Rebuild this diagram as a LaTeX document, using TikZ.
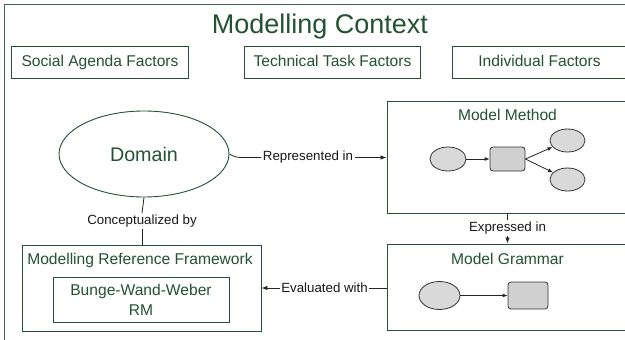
\documentclass[tikz,border=0pt]{standalone}
\usepackage{fontspec}
\setmainfont{Liberation Sans}
\usetikzlibrary{shapes.geometric,arrows.meta}
\definecolor{dkgreen}{RGB}{36,82,50}
\definecolor{framegreen}{RGB}{62,102,74}
\definecolor{shapefill}{RGB}{217,217,217}
\definecolor{rectfill}{RGB}{208,208,208}
\definecolor{labelink}{RGB}{25,25,25}
\begin{document}
\begin{tikzpicture}[x=1pt,y=-1pt,
  box/.style={draw=dkgreen, line width=0.9pt, rectangle, inner sep=0pt},
  boxtxt/.style={text=dkgreen, font=\fontsize{15.6}{18}\selectfont, anchor=base, inner sep=0pt},
  lbl/.style={text=labelink, font=\fontsize{13.3}{15}\selectfont, inner sep=1.5pt},
  conn/.style={draw=black!85, line width=0.8pt},
  arr/.style={conn, -{Latex[length=6pt,width=4.5pt]}},
  sarr/.style={conn, -{Latex[length=5pt,width=4pt]}},
  blob/.style={ellipse, draw=black!80, fill=shapefill, line width=0.8pt, inner sep=0pt},
  proc/.style={rectangle, rounded corners=3pt, draw=black!80, fill=rectfill, line width=0.8pt, inner sep=0pt},
]
\clip (0,0) rectangle (625,340);
\fill[white] (0,0) rectangle (625,340);
% outer frame
\draw[framegreen, line width=1pt] (4.5,4.5) rectangle (700,400);
\node[text=dkgreen, font=\fontsize{27}{30}\selectfont, anchor=base, inner sep=0pt] (title) at (320,34) {Modelling Context};

% factor boxes
\node[box, minimum width=177pt, minimum height=32pt] (social) at (99.5,62) {};
\node[box, minimum width=176pt, minimum height=32pt] (tech) at (332,62) {};
\node[box, minimum width=268pt, minimum height=32pt] (indiv) at (586,62) {};
\node[boxtxt] (socialt) at (100,66) {Social Agenda Factors};
\node[boxtxt] (techt) at (332.5,66) {Technical Task Factors};
\node[boxtxt] (indivt) at (539.5,66) {Individual Factors};

% domain
\node[ellipse, draw=dkgreen, line width=0.9pt, minimum width=170pt, minimum height=86pt, inner sep=0pt] (dom) at (144,154) {};
\node[text=dkgreen, font=\fontsize{19.7}{22}\selectfont, anchor=base, inner sep=0pt] (domt) at (144,161.5) {Domain};

% model method
\node[box, minimum width=333pt, minimum height=112pt] (mm) at (553.5,157) {};
\node[boxtxt] (mmt) at (507.5,120.5) {Model Method};
\node[blob, minimum width=36pt, minimum height=24pt] (m1) at (448,159) {};
\node[proc, minimum width=35pt, minimum height=24pt] (m2) at (507.5,159) {};
\node[blob, minimum width=35pt, minimum height=23pt] (m3) at (567.5,140.5) {};
\node[blob, minimum width=35pt, minimum height=23pt] (m4) at (567.5,179.5) {};
\draw[sarr] (m1) -- (m2);
\draw[sarr] (m2.east) -- (m3);
\draw[sarr] (m2.east) -- (m4);

% model grammar
\node[box, minimum width=333pt, minimum height=86.5pt] (mg) at (553.5,287.25) {};
\node[boxtxt] (mgt) at (507.5,264.5) {Model Grammar};
\node[blob, minimum width=41pt, minimum height=28pt] (g1) at (439.5,295.5) {};
\node[proc, minimum width=40pt, minimum height=27pt] (g2) at (528,295.5) {};
\draw[sarr] (g1) -- (g2);

% modelling reference framework
\node[box, minimum width=239pt, minimum height=86pt] (mrf) at (141.5,288) {};
\node[boxtxt] (mrft) at (140,264.5) {Modelling Reference Framework};
\node[box, minimum width=176pt, minimum height=45pt] (bww) at (141,299.5) {};
\node[boxtxt] (bwwt1) at (141,295.6) {Bunge-Wand-Weber};
\node[boxtxt] (bwwt2) at (141,315.6) {RM};

% connector labels
\node[lbl] (rep) at (308,157.5) {Represented in};
\node[lbl] (con) at (142,221) {Conceptualized by};
\node[lbl] (exp) at (507.5,228) {Expressed in};
\node[lbl] (eva) at (324.5,288) {Evaluated with};

% connectors
\draw[conn] (dom.east) .. controls (236,157.5) .. (246,157.5) -- (rep.west);
\draw[arr] (rep.east) -- (rep.east -| mm.west);
\draw[conn] (dom.south) -- (con.north);
\draw[conn] (con.south) -- (con.south |- mrf.north);
\draw[conn] (exp.north |- mm.south) -- (exp.north);
\draw[arr] (exp.south) -- (exp.south |- mg.north);
\draw[conn] (eva.east -| mg.west) -- (eva.east);
\draw[arr] (eva.west) -- (eva.west -| mrf.east);
\end{tikzpicture}
\end{document}
